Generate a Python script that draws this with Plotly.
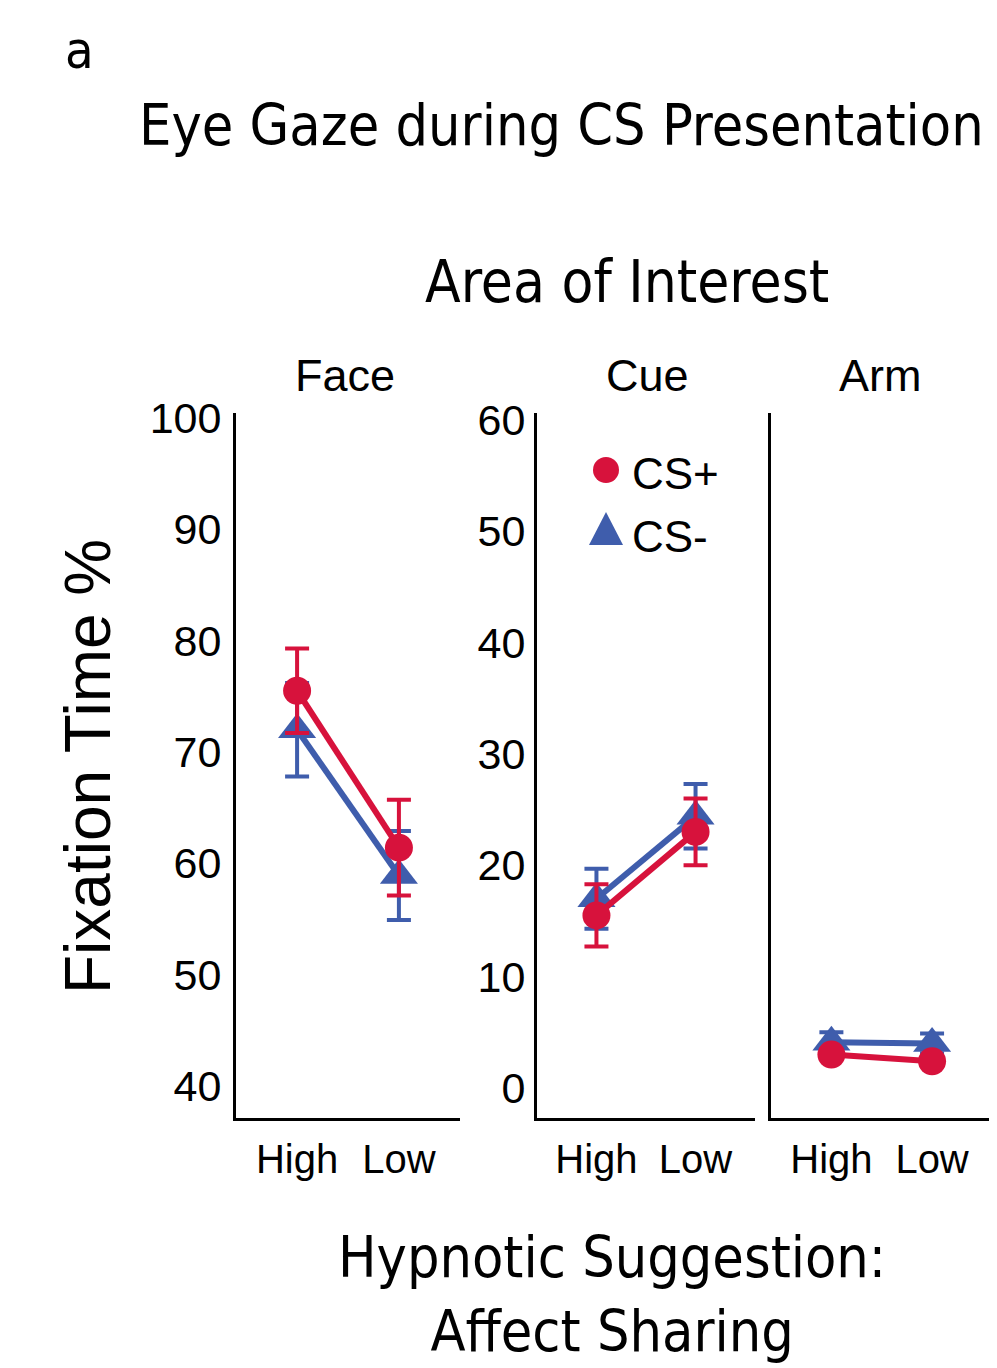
import plotly.graph_objects as go

# ---- data ----
conditions = ["High", "Low"]
panels = ["Face", "Cue", "Arm"]

face_cs_plus = [75.5, 61.4]
face_cs_plus_err = [3.8, 4.3]
face_cs_minus = [72.0, 58.9]
face_cs_minus_err = [4.2, 4.0]

cue_cs_plus = [15.5, 23.0]
cue_cs_plus_err = [2.8, 3.0]
cue_cs_minus = [17.0, 24.4]
cue_cs_minus_err = [2.7, 2.9]

arm_cs_plus = [3.0, 2.4]
arm_cs_plus_err = [0.4, 0.4]
arm_cs_minus = [4.1, 4.0]
arm_cs_minus_err = [0.9, 0.9]

face_ticks = [40, 50, 60, 70, 80, 90, 100]
cue_ticks = [0, 10, 20, 30, 40, 50, 60]

RED = "#D7123C"
BLUE = "#3F5DAC"
TICK_FONT = "Liberation Sans, Arial"
TITLE_FONT = "DejaVu Sans Condensed, DejaVu Sans"

# page body has an 8px margin; figure sized to fill the rest of the window
OFF = 8
W, H = 997 - OFF, 1368 - OFF


def px(x):
    return (x - OFF) / W


def py(y):
    return 1 - (y - OFF) / H


fig = go.Figure()

series = [
    ("x", "y", face_cs_minus, face_cs_minus_err, face_cs_plus, face_cs_plus_err),
    ("x2", "y2", cue_cs_minus, cue_cs_minus_err, cue_cs_plus, cue_cs_plus_err),
    ("x3", "y3", arm_cs_minus, arm_cs_minus_err, arm_cs_plus, arm_cs_plus_err),
]

for xa, ya, mv, me, pv, pe in series:
    fig.add_trace(go.Scatter(
        x=conditions, y=mv, xaxis=xa, yaxis=ya, mode="lines+markers",
        name="CS-", showlegend=False,
        line=dict(color=BLUE, width=6),
        marker=dict(symbol="triangle-up", size=33, color=BLUE),
        error_y=dict(type="data", array=me, visible=True, color=BLUE,
                     thickness=4, width=12),
        cliponaxis=False,
    ))
    fig.add_trace(go.Scatter(
        x=conditions, y=pv, xaxis=xa, yaxis=ya, mode="lines+markers",
        name="CS+", showlegend=False,
        line=dict(color=RED, width=6),
        marker=dict(symbol="circle", size=28, color=RED),
        error_y=dict(type="data", array=pe, visible=True, color=RED,
                     thickness=4, width=12),
        cliponaxis=False,
    ))

ydom = [py(1118), py(413)]
xdoms = [[px(236), px(460)], [px(537), px(755)], [px(771), px(997)]]

axis_common = dict(showline=True, linecolor="black", linewidth=3,
                   showgrid=False, zeroline=False, ticks="",
                   automargin=False)

for i, dom in enumerate(xdoms):
    key = "xaxis" if i == 0 else f"xaxis{i+1}"
    anchor = "y" if i == 0 else f"y{i+1}"
    rng = [-0.6, 1.6] if i < 2 else [-0.6, 1.645]
    fig.layout[key] = dict(
        domain=dom, anchor=anchor, type="category",
        range=rng, ticklabelstandoff=4,
        tickfont=dict(family=TICK_FONT, size=40, color="black"),
        **axis_common)

fig.layout["yaxis"] = dict(domain=ydom, anchor="x", range=[37.12, 100.45],
                           tickvals=face_ticks, ticklabelstandoff=3,
                           tickfont=dict(family=TICK_FONT, size=43, color="black"),
                           **axis_common)
fig.layout["yaxis2"] = dict(domain=ydom, anchor="x2", range=[-2.7, 60.63],
                            tickvals=cue_ticks, ticklabelstandoff=0,
                            tickfont=dict(family=TICK_FONT, size=43, color="black"),
                            **axis_common)
fig.layout["yaxis3"] = dict(domain=ydom, anchor="x3", matches="y2",
                            range=[-2.7, 60.63], showticklabels=False,
                            **axis_common)


def ann(text, x, y, size, family=TITLE_FONT, xanchor="center", angle=0):
    fig.add_annotation(text=text, x=px(x), y=py(y), xref="paper", yref="paper",
                       xanchor=xanchor, yanchor="middle", showarrow=False,
                       textangle=angle,
                       font=dict(family=family, size=size, color="black"))


ann("a", 63, 50, 52, xanchor="left")
ann("Eye Gaze during CS Presentation", 137, 125, 57, xanchor="left")
ann("Area of Interest", 627, 282, 58)
for name, cx in zip(panels, [345, 647, 880]):
    ann(name, cx, 376, 45, family=TICK_FONT)
ann("Fixation Time %", 88, 767, 64, family="Liberation Sans, Arial", angle=-90)
ann("Hypnotic Suggestion:<br>Affect Sharing", 612, 1294, 57)

# legend (drawn inside the Cue panel)
ann("CS+", 630, 473, 44, family="Liberation Sans, Arial", xanchor="left")
ann("CS-", 630, 537, 44, family="Liberation Sans, Arial", xanchor="left")
fig.add_shape(type="circle", xref="paper", yref="paper",
              x0=px(593), x1=px(619), y0=py(483), y1=py(457),
              fillcolor=RED, line=dict(width=0))
fig.add_shape(type="path", xref="paper", yref="paper",
              path=f"M {px(589)} {py(545)} L {px(623)} {py(545)} L {px(606)} {py(512)} Z",
              fillcolor=BLUE, line=dict(width=0))

fig.update_layout(width=W, height=H, margin=dict(l=0, r=0, t=0, b=0),
                  template="none", paper_bgcolor="white", plot_bgcolor="white",
                  showlegend=False)

fig.write_html("out.html")
